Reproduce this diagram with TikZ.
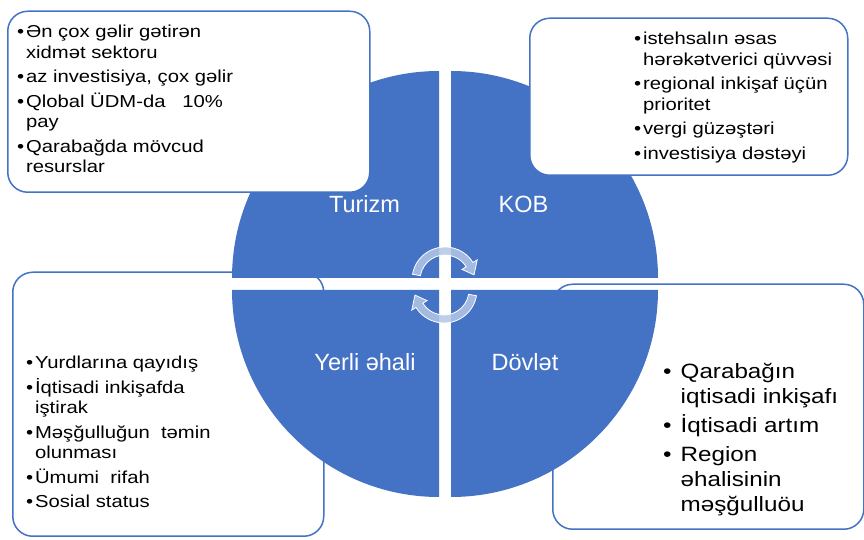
\documentclass[tikz,border=0pt]{standalone}
\usepackage{fontspec}
\setmainfont{Liberation Sans}
\newfontfamily\boxfont[FakeStretch=1.17]{Liberation Sans}
\usetikzlibrary{calc}
\definecolor{qblue}{HTML}{4472C4}
\definecolor{arrowfill}{HTML}{B4C7E7}
\newcommand{\bulln}[1]{\hbox{•\hspace{1.8pt}#1}}
\newcommand{\contn}[1]{\hbox{\phantom{•}\hspace{1.8pt}#1}}
\newcommand{\igap}{\vskip4pt}
\newcommand{\bullb}[1]{\hbox{•\hspace{9pt}#1}}
\newcommand{\contb}[1]{\hbox{\phantom{•}\hspace{9pt}#1}}
\begin{document}
\begin{tikzpicture}[x=1pt,y=1pt,
  box/.style={draw=qblue, line width=1.5pt, fill=white, rounded corners=20pt, inner sep=0pt, anchor=south west},
  smalltext/.style={anchor=base west, inner sep=0pt, font=\boxfont\fontsize{17.3}{20.5}\selectfont},
  bigtext/.style={anchor=base west, inner sep=0pt, font=\boxfont\fontsize{20.7}{25}\selectfont},
  quad/.style={fill=qblue},
  qlabel/.style={anchor=base, inner sep=0pt, text=white, font=\fontsize{23.5}{28}\selectfont},
  cyclearrow/.style={fill=arrowfill, fill opacity=0.85, draw=white, line width=0.8pt}]
\useasboundingbox (0,0) rectangle (864,540);
\fill[white] (0,0) rectangle (864,540);
% bottom boxes (behind the circle)
\node[box, minimum width=311pt, minimum height=264pt] (blbox) at (12,3) {};
\node[box, minimum width=311pt, minimum height=245pt] (brbox) at (552,10) {};
% quadrants
\path[quad] (439,262) -- ++(-207,0) arc[start angle=180, end angle=90, radius=207] -- cycle;
\path[quad] (451,262) -- ++(0,207) arc[start angle=90, end angle=0, radius=207] -- cycle;
\path[quad] (439,250) -- ++(-207,0) arc[start angle=180, end angle=270, radius=207] -- cycle;
\path[quad] (451,250) -- ++(207,0) arc[start angle=0, end angle=-90, radius=207] -- cycle;
% quadrant labels
\node[qlabel] (turizm) at (364.5,327) {Turizm};
\node[qlabel] (kob) at (523.5,327) {KOB};
\node[qlabel] (yerli) at (365,169) {Yerli əhali};
\node[qlabel] (dovlet) at (525,169) {Dövlət};
% cycle arrows
\coordinate (ca) at (445,260);
\coordinate (cb) at (444,250);
\path[cyclearrow] ($(ca)+(170:33)$) arc[start angle=170, end angle=32, radius=33]
  -- ($(ca)+(32:38)$) -- ($(ca)+(10:29.5)$) -- ($(ca)+(32:20)$) -- ($(ca)+(32:25)$)
  arc[start angle=32, end angle=170, radius=25] -- cycle;
\path[cyclearrow] ($(cb)+(-10:33)$) arc[start angle=-10, end angle=-148, radius=33]
  -- ($(cb)+(-148:38)$) -- ($(cb)+(-170:29.5)$) -- ($(cb)+(-148:20)$) -- ($(cb)+(-148:25)$)
  arc[start angle=-148, end angle=-10, radius=25] -- cycle;
% top boxes (in front of the circle)
\node[box, minimum width=362pt, minimum height=181pt] (tlbox) at (7,347) {};
\node[box, minimum width=318pt, minimum height=157pt] (trbox) at (529,364) {};
% texts
\node[smalltext] (tltext) at (17,502) {\vtop{\baselineskip=20.5pt
  \bulln{Ən çox gəlir gətirən}\contn{xidmət sektoru}\igap
  \bulln{az investisiya, çox gəlir}\igap
  \bulln{Qlobal ÜDM-da\ \ \ 10\%}\contn{pay}\igap
  \bulln{Qarabağda mövcud}\contn{resurslar}}};
\node[smalltext] (trtext) at (634,495) {\vtop{\baselineskip=20.5pt
  \bulln{istehsalın əsas}\contn{hərəkətverici qüvvəsi}\igap
  \bulln{regional inkişaf üçün}\contn{prioritet}\igap
  \bulln{vergi güzəştəri}\igap
  \bulln{investisiya dəstəyi}}};
\node[smalltext] (bltext) at (26,171) {\vtop{\baselineskip=20.5pt
  \bulln{Yurdlarına qayıdış}\igap
  \bulln{İqtisadi inkişafda}\contn{iştirak}\igap
  \bulln{Məşğulluğun\ \ təmin}\contn{olunması}\igap
  \bulln{Ümumi\ \ rifah}\igap
  \bulln{Sosial status}}};
\node[bigtext] (brtext) at (663,161) {\vtop{\baselineskip=25pt
  \bullb{Qarabağın}\contb{iqtisadi inkişafı}\igap
  \bullb{İqtisadi artım}\igap
  \bullb{Region}\contb{əhalisinin}\contb{məşğulluöu}}};
\end{tikzpicture}
\end{document}
